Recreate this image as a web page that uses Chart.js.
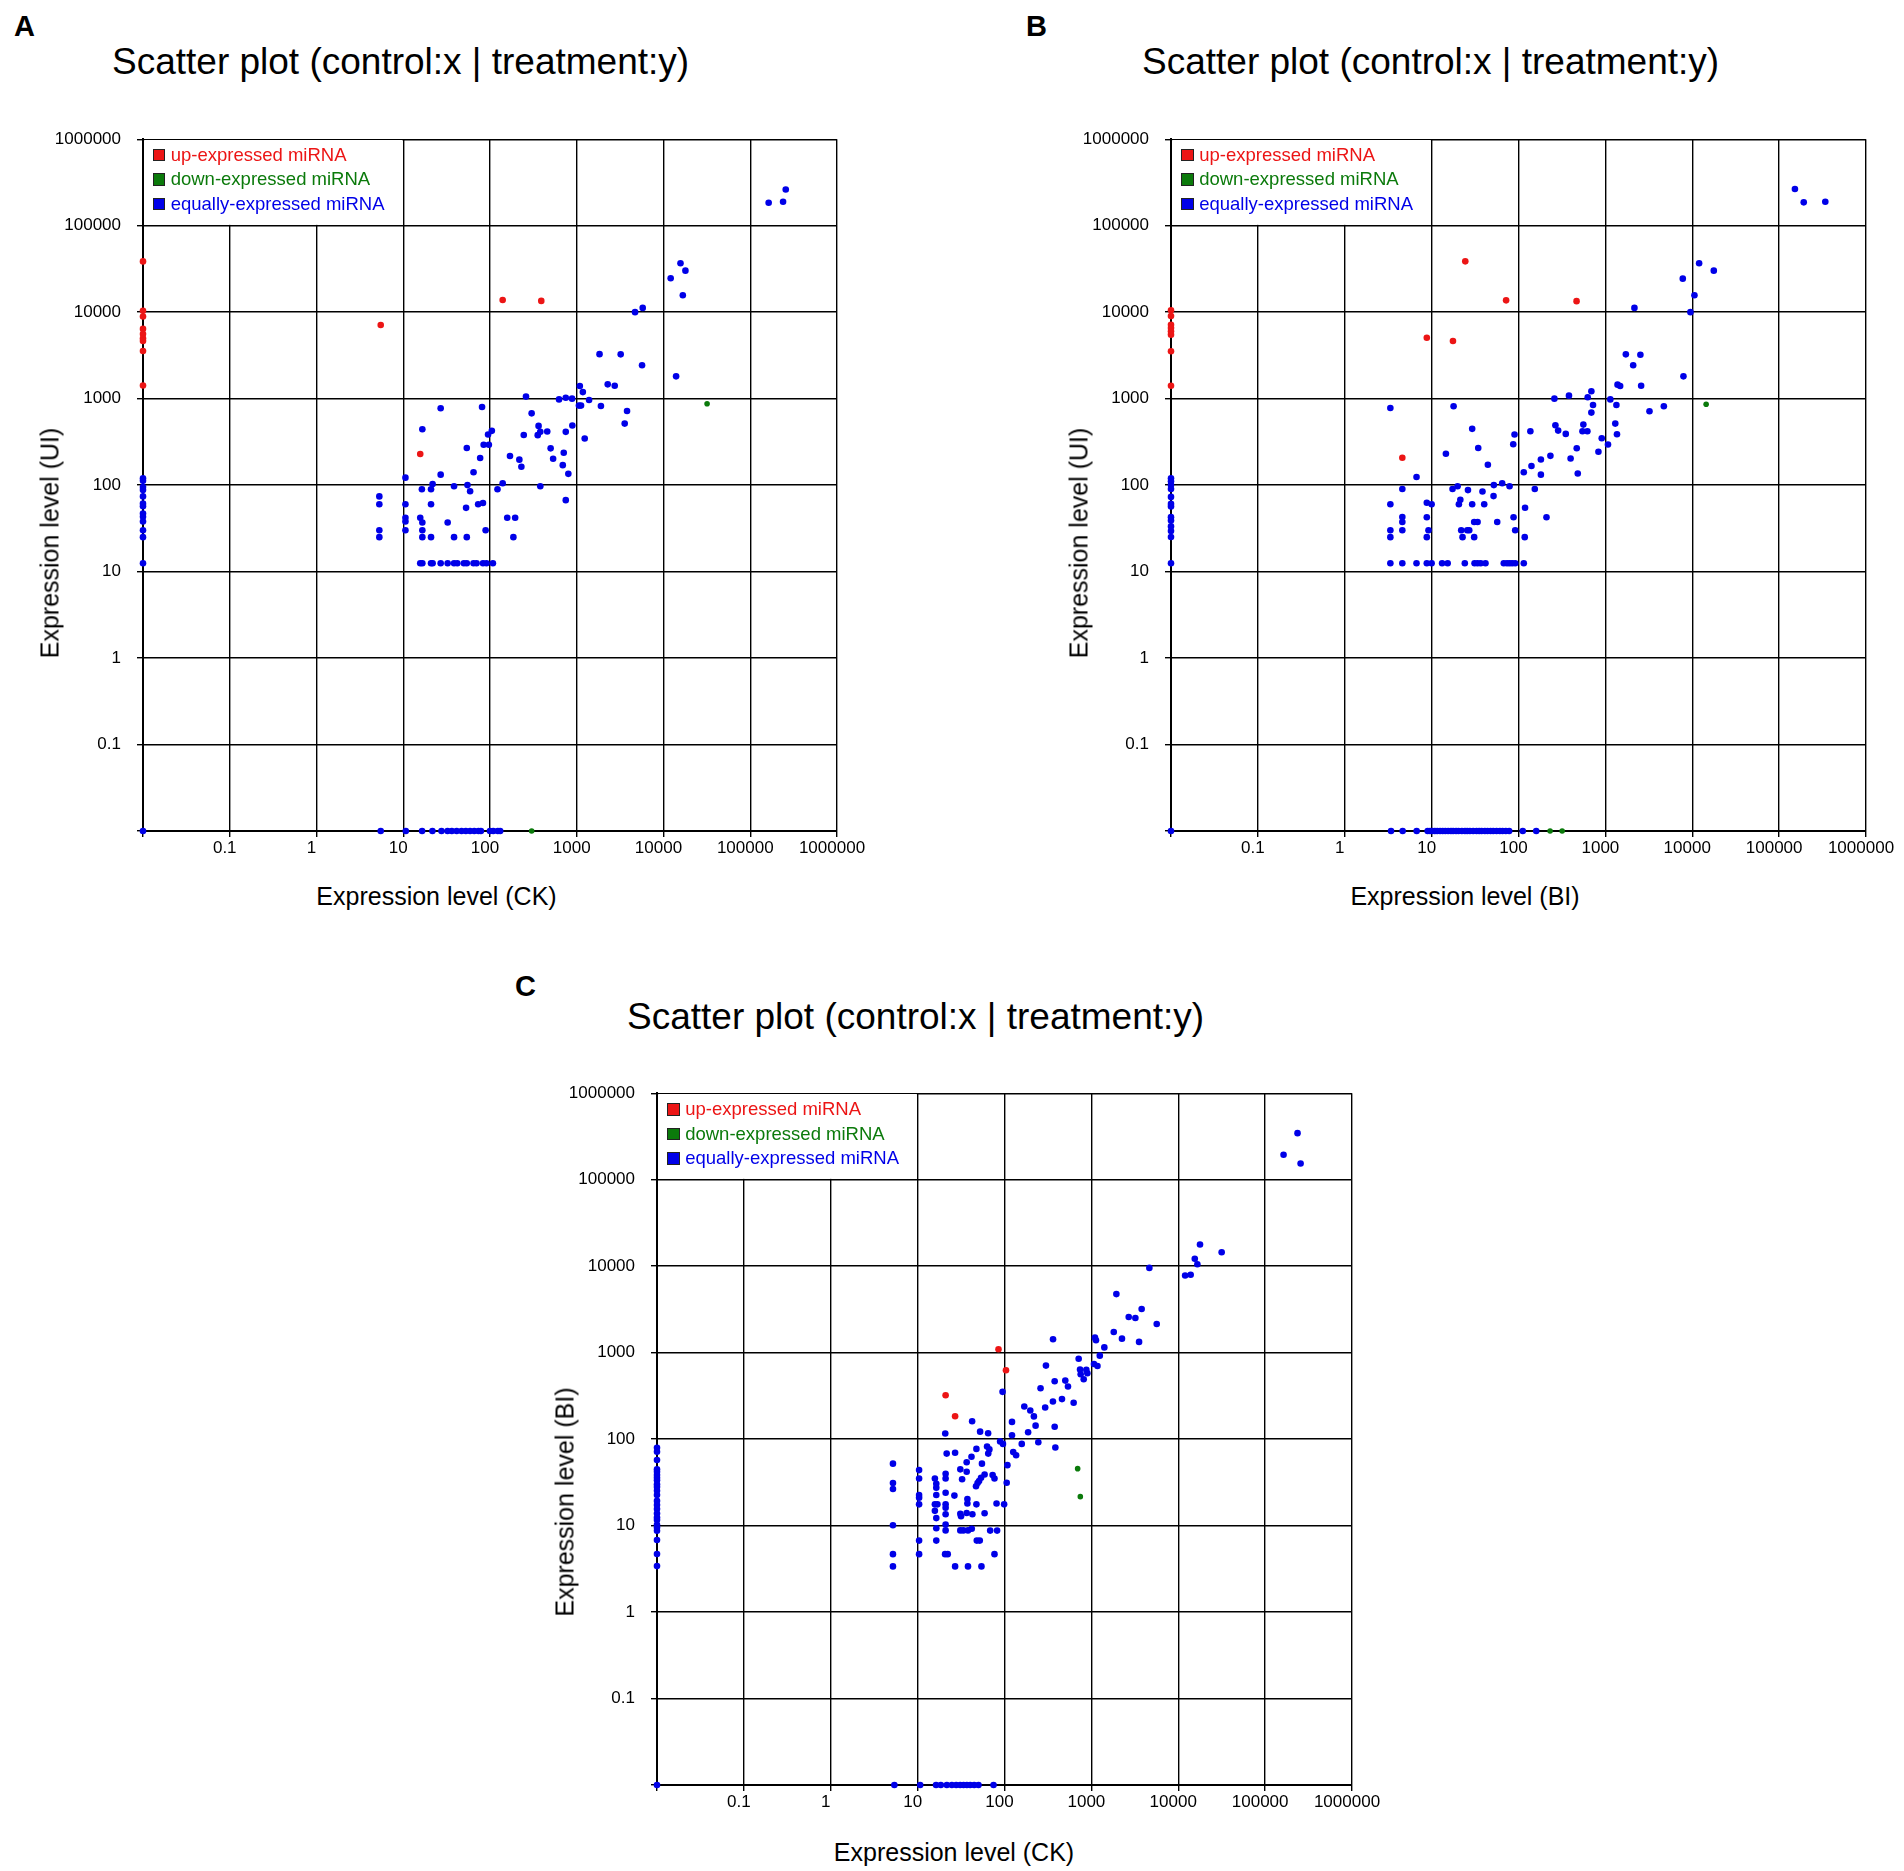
<!DOCTYPE html>
<html><head><meta charset="utf-8">
<script src="https://cdn.jsdelivr.net/npm/chart.js@4.4.1/dist/chart.umd.min.js"></script>
<style>
html,body{margin:0;padding:0;background:#fff;}
body{width:1904px;height:1871px;position:relative;overflow:hidden;font-family:"Liberation Sans",Arial,Helvetica,sans-serif;color:#000;}
.abs{position:absolute;white-space:nowrap;}
.letter{font-weight:bold;font-size:29px;line-height:29px;}
.title{font-size:37px;line-height:37px;}
.axt{font-size:25px;line-height:25px;transform:translate(-50%,-50%);}
.axt.rot{transform:translate(-50%,-50%) rotate(-90deg);}
.leg{font-size:18.5px;line-height:24.6px;}
.leg .row{display:flex;align-items:center;height:24.6px;}
.leg .sw{width:10.6px;height:10.6px;border:1px solid #222;margin-right:5.4px;}
.box{position:absolute;}
</style></head><body>
<div class="abs letter" style="left:14px;top:12px;">A</div>
<div class="abs letter" style="left:1026px;top:12px;">B</div>
<div class="abs letter" style="left:515px;top:972px;">C</div>
<div id="root"></div>
<script>
// ---------- data ----------
const SERIES_NAMES = ['up-expressed miRNA', 'down-expressed miRNA', 'equally-expressed miRNA'];
const TICK_VALUES = [0.01, 0.1, 1, 10, 100, 1000, 10000, 100000, 1000000];
const TICK_LABELS = ['', '0.1', '1', '10', '100', '1000', '10000', '100000', '1000000'];
const PANEL_TITLE = 'Scatter plot (control:x | treatment:y)';

// Panel A: control CK (x) vs treatment UI (y); 0 = not detected
const aUp = [[0,38600],[0,10400],[0,8900],[0,6400],[0,5600],[0,5000],[0,4650],[0,3550],[0,1420],
  [5.5,7100],[140,13800],[390,13500],[15.7,229]];
const aDown = [[31800,871],[302,0]];
const aEqual = [[0,0],[0,120],[0,112],[0,95],[0,88],[0,74],[0,61],[0,57],[0,47],[0,43],[0,38],[0,30],[0,25],[0,12.5],
  [5.5,0],[10.7,0],[16.5,0],[21.7,0],[27.6,0],[32.4,0],[36.3,0],[41.3,0],[47,0],[52.6,0],[58.9,0],[65.8,0],[73.6,0],[78.5,0],[100,0],[109,0],[123,0],[131,0],
  [1085,1400],[260,1055],[625,980],[747,1025],[883,1000],[1175,1190],[1387,965],[1060,830],[1120,830],[1900,822],
  [27,775],[81,801],[302,676],[16.6,443],[105,424],[95,385],[363,484],[380,413],[355,378],[245,380],[457,417],[747,413],[890,489],
  [708,237],[1235,346],[500,266],[534,202],[690,170],[800,135],[170,217],[218,197],[230,163],[54,269],[84.5,293],[97,293],[77,206],
  [64.6,141],[27,132],[10.6,122],[21.8,103],[16.4,89.6],[20.9,89.6],[38.5,97],[55,100],[59,85],[122,89.6],[140,105],[380,97],[747,67],
  [5.3,74],[5.3,60],[5.3,30],[5.3,25],[10.6,60],[10.6,42],[10.6,38],[10.6,30],[15.7,42],[16.6,37],[16.6,30],[16.6,25],[20.9,60],[20.9,25],
  [32.5,37],[38.5,25],[54,25],[53,54.6],[73,60],[83,62],[89,30],[158,42],[195,42],[186,25],
  [15.7,12.5],[16.6,12.5],[20.9,12.5],[21.8,12.5],[27,12.5],[32.5,12.5],[38.5,12.5],[42,12.5],[50,12.5],[54,12.5],[64.6,12.5],[70,12.5],[83,12.5],[91,12.5],[108,12.5],
  [256600,262000],[163000,184000],[239000,189000],[15700,36700],[17900,30200],[12100,24700],[16700,15700],[5760,11200],[4700,10000],
  [1830,3270],[3210,3250],[5660,2430],[13970,1810],[2275,1463],[2740,1410],[3800,720],[3570,514]];

// Panel B: control BI (x) vs treatment UI (y)
const bUp = [[0,10500],[0,9000],[0,7140],[0,6550],[0,6000],[0,5490],[0,3530],[0,1410],
  [24.4,38700],[72,13700],[466,13400],[8.8,5060],[17.6,4630],[4.6,207]];
const bDown = [[14450,861],[231,0],[318,0]];
const bEqual = [[0,0],[0,120],[0,111],[0,100],[0,90],[0,73],[0,60.6],[0,56.5],[0,42.6],[0,39],[0,33.3],[0,29.4],[0,25.1],[0,12.5],
  [3.41,0],[4.64,0],[6.73,0],[9.0,0],[9.6,0],[10.2,0],[10.9,0],[11.6,0],[12.5,0],[13.4,0],[14.4,0],[15.5,0],[16.7,0],[17.7,0],[19.1,0],[20.4,0],
  [22.3,0],[24.2,0],[25.7,0],[27.6,0],[30.1,0],[32.9,0],[35.3,0],[37.6,0],[41,0],[44,0],[47.7,0],[51.2,0],[55.9,0],[61,0],[65.5,0],[71.5,0],[78.1,0],[112,0],[160,0],
  [152000,265000],[192000,186000],[340000,189000],[12000,36700],[17700,30200],[7780,24400],[10600,15700],[2160,11200],[9530,10000],
  [1720,3250],[2530,3220],[2090,2430],[7920,1810],[1480,1400],[2580,1410],[3220,714],[4710,817],
  [3.35,780],[17.9,815],[29.3,447],[14.6,230],[34.4,269],[44.4,172],[90,384],[87,297],[137,420],[259,1000],[381,1083],[626,1036],[690,1215],
  [721,845],[690,689],[1140,980],[1380,1450],[1340,845],[1300,514],[1360,387],[266,492],[286,427],[350,391],[558,501],[545,420],[621,420],
  [908,348],[1072,295],[832,243],[468,267],[398,203],[481,136],[233,218],[181,198],[141,166],[115,141],[181,132],[154,90],[6.7,124],[4.6,90],
  [17.4,90],[19.9,97],[26.2,87.5],[38.5,84.5],[52,100],[64.9,105],[78.9,97],[51.6,74.6],[3.35,60],[8.8,62.5],[10,60],[21.4,67.6],[20.6,60],
  [29.3,60],[40.3,60],[119,54.7],[4.6,42.7],[4.6,37.4],[4.6,30],[8.8,42.5],[3.35,30],[3.35,25],[9.2,30],[8.8,25],[21.9,30],[25.7,30],[27.1,30],
  [22.7,25],[30.9,25],[30.9,37.4],[33.8,37.4],[56.9,37.4],[87.7,42.5],[91.6,30],[118,25],[210,42.5],
  [3.35,12.5],[4.6,12.5],[6.7,12.5],[8.8,12.5],[10,12.5],[13.2,12.5],[15.3,12.5],[24.1,12.5],[31.2,12.5],[33.8,12.5],[36.7,12.5],[41.7,12.5],
  [67.7,12.5],[73.7,12.5],[78.9,12.5],[84.6,12.5],[91.6,12.5],[115,12.5]];

// Panel C: control CK (x) vs treatment BI (y)
const cUp = [[85.3,1093],[104,625],[21,322],[27,184]];
const cDown = [[695,45.5],[746,21.6]];
const cEqual = [[0,0],[0,79.5],[0,71.5],[0,57.3],[0,44.7],[0,42],[0,38.5],[0,35.8],[0,33.4],[0,30],[0,28],[0,25.2],[0,22.6],[0,19.3],
  [0,17.3],[0,15.5],[0,13.8],[0,12.4],[0,11.6],[0,10.2],[0,9.5],[0,8.7],[0,6.8],[0,4.7],[0,3.4],
  [5.4,0],[10.7,0],[16.3,0],[18.5,0],[21.7,0],[24.8,0],[27.8,0],[30.9,0],[33.8,0],[36.9,0],[40.3,0],[44.8,0],[50.2,0],[74.8,0],
  [236000,345000],[163000,194000],[256000,154000],[17800,17800],[31600,14500],[15500,12200],[16600,10500],[12000,7800],[13900,7940],
  [4650,9550],[1940,4750],[3790,3190],[2690,2580],[3210,2510],[5650,2140],[1810,1730],[2250,1450],[3540,1330],[1100,1490],[1130,1390],
  [1410,1150],[362,1430],[714,851],[1250,922],
  [300,708],[1072,739],[1175,701],[741,637],[875,631],[899,578],[753,562],[816,492],[378,467],[501,475],[538,405],[260,387],[95,352],
  [361,272],[459,290],[625,263],[169,238],[198,214],[294,232],[218,183],[228,143],[378,139],[122,158],[187,120],[122,111],[42.4,161],
  [52.4,122],[64.8,117],[20.8,116],[89,94],[96,88],[158,88],[245,92],[385,80],[63,82],[67,76],[65,68],[47.5,77],[21.6,68],[27,69.5],
  [126,71],[136,65],[41.7,62.5],[36.7,54],[55,52],[108,50],[5.2,52],[10.4,43.8],[10.4,35],[31,44.7],[36.7,42],[21,39.8],[21,35],[15.8,35],
  [32.5,34.3],[59,39],[53.7,35.8],[51,32.7],[73,38.5],[76.7,35],[47,28.5],[49,31],[106,31.3],[5.2,31],[5.2,26.5],[16.4,30.5],[16.4,27.4],
  [16.4,22.6],[21,24],[26.5,22.2],[10.4,22.6],[10.4,21],[10.4,17.6],[15.8,17.6],[16.9,17.6],[15.8,14.8],[21,17.6],[21,16.1],[21,13.5],
  [16.4,12.2],[37.4,20.3],[37.4,18],[47.5,17.6],[81,18],[99,17.6],[31,13.7],[31.6,12.8],[36.7,14],[42.7,13.5],[59,13.9],[21,10.3],[21,8.8],
  [16.4,9.3],[31,8.8],[33.6,8.8],[38,8.8],[42,9.2],[68.4,8.75],[82.2,8.75],[5.2,10.1],[10.4,6.7],[16.4,6.7],[48,6.7],[51.9,6.7],[5.2,4.67],
  [5.2,3.37],[10.4,4.67],[20.7,4.67],[22.2,4.67],[76.7,4.67],[27,3.37],[38,3.37],[54.3,3.37]];

// ---------- styling / layout ----------
const FLOOR = TICK_VALUES[0];
const COLORS = ['#ec1515', '#0b7a0b', '#0000e8'];
const FONT = '"Liberation Sans", Arial, Helvetica, sans-serif';

const panels = [
  { area:{left:142.5, top:136.5, right:837, bottom:830.5}, sets:[aUp,aDown,aEqual],
    xTitle:'Expression level (CK)', yTitle:'Expression level (UI)',
    title:{left:112, top:42.5}, xt:{x:436.5, y:896}, yt:{x:50, y:542.5} },
  { area:{left:1171, top:136.5, right:1866, bottom:830.5}, sets:[bUp,bDown,bEqual],
    xTitle:'Expression level (BI)', yTitle:'Expression level (UI)',
    title:{left:1142, top:42.5}, xt:{x:1465, y:896}, yt:{x:1079, y:542.5} },
  { area:{left:657, top:1091, right:1352, bottom:1785}, sets:[cUp,cDown,cEqual],
    xTitle:'Expression level (CK)', yTitle:'Expression level (BI)',
    title:{left:627, top:997.5}, xt:{x:954, y:1852}, yt:{x:565, y:1502} }
];

// blank the legend cell (from the y axis to x=10, from y=1e5 to the top)
const legendCellPlugin = {
  id: 'legendCell',
  beforeDatasetsDraw(chart) {
    const xs = chart.scales.x, ys = chart.scales.y, ctx = chart.ctx;
    const x0 = xs.getPixelForValue(TICK_VALUES[0]) + 1.2;
    const x1 = xs.getPixelForValue(TICK_VALUES[3]) - 0.8;
    const y0 = ys.getPixelForValue(TICK_VALUES[8]) + 0.8;
    const y1 = ys.getPixelForValue(TICK_VALUES[7]) - 0.8;
    ctx.save(); ctx.fillStyle = '#fff'; ctx.fillRect(x0, y0, x1 - x0, y1 - y0); ctx.restore();
  }
};

const root = document.getElementById('root');
function addDiv(cls, text, style) {
  const d = document.createElement('div');
  d.className = cls; d.textContent = text; d.setAttribute('style', style);
  root.appendChild(d); return d;
}

panels.forEach((p, i) => {
  const padL = 100, padT = 24, padR = 56, padB = 50;
  const W = p.area.right - p.area.left + padL + padR;
  const H = p.area.bottom - p.area.top + padT + padB;
  const box = document.createElement('div');
  box.className = 'box';
  box.style.left = (p.area.left - padL) + 'px';
  box.style.top = (p.area.top - padT) + 'px';
  box.style.width = W + 'px';
  box.style.height = H + 'px';
  const cv = document.createElement('canvas');
  cv.style.width = W + 'px'; cv.style.height = H + 'px';
  box.appendChild(cv);
  root.appendChild(box);

  const datasets = p.sets.map((arr, k) => ({
    label: SERIES_NAMES[k],
    data: arr.map(v => ({ x: v[0] > 0 ? v[0] : FLOOR, y: v[1] > 0 ? v[1] : FLOOR })),
    backgroundColor: COLORS[k],
    borderColor: COLORS[k],
    pointRadius: k === 1 ? 2.8 : 3.3,
    pointHoverRadius: 3.3,
    pointBorderWidth: 0,
    clip: false,
    order: 2 - k
  }));

  const axisCommon = (isX) => ({
    type: 'logarithmic',
    min: TICK_VALUES[0],
    max: TICK_VALUES[TICK_VALUES.length - 1],
    afterBuildTicks: (s) => { s.ticks = TICK_VALUES.map(v => ({ value: v })); },
    afterFit: (s) => { if (isX) s.height = padB; else s.width = padL; },
    ticks: {
      autoSkip: false, maxRotation: 0, minRotation: 0,
      color: '#000', font: { family: FONT, size: 17 },
      padding: isX ? 1 : 16,
      labelOffset: isX ? -5 : 0,
      callback: (v) => { const idx = TICK_VALUES.indexOf(v); return idx >= 0 ? TICK_LABELS[idx] : ''; }
    },
    grid: { color: '#000', lineWidth: 1.4, tickLength: 6, drawTicks: true },
    border: { color: '#000', width: 2 },
    title: { display: false }
  });

  new Chart(cv, {
    type: 'scatter',
    data: { datasets },
    plugins: [legendCellPlugin],
    options: {
      responsive: false,
      maintainAspectRatio: false,
      animation: false,
      events: [],
      layout: { padding: { left: 0, top: padT, right: padR, bottom: 0 } },
      plugins: { legend: { display: false }, tooltip: { enabled: false }, title: { display: false } },
      scales: { x: Object.assign(axisCommon(true), { position: 'bottom' }),
                y: Object.assign(axisCommon(false), { position: 'left' }) }
    }
  });

  // panel title and axis titles
  addDiv('abs title', PANEL_TITLE, `left:${p.title.left}px;top:${p.title.top}px;`);
  addDiv('abs axt', p.xTitle, `left:${p.xt.x}px;top:${p.xt.y}px;`);
  addDiv('abs axt rot', p.yTitle, `left:${p.yt.x}px;top:${p.yt.y}px;`);

  // legend inside plot area (top-left)
  const leg = document.createElement('div');
  leg.className = 'abs leg';
  leg.style.left = (p.area.left + 10.2) + 'px';
  leg.style.top = (p.area.top + 6) + 'px';
  SERIES_NAMES.forEach((name, k) => {
    const row = document.createElement('div'); row.className = 'row';
    const sw = document.createElement('span'); sw.className = 'sw'; sw.style.background = COLORS[k];
    const tx = document.createElement('span'); tx.textContent = name; tx.style.color = COLORS[k];
    row.appendChild(sw); row.appendChild(tx); leg.appendChild(row);
  });
  root.appendChild(leg);
});
</script>
</body></html>
